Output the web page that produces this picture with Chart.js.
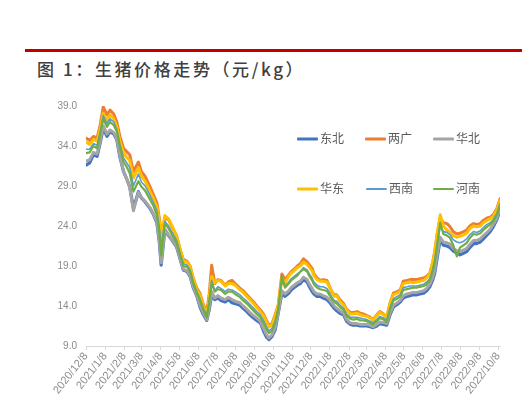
<!DOCTYPE html>
<html>
<head>
<meta charset="utf-8">
<script src="https://cdn.jsdelivr.net/npm/chart.js@4.4.0/dist/chart.umd.min.js"></script>
<style>
  html, body { margin: 0; padding: 0; background: #ffffff; }
  #wrap { position: relative; width: 522px; height: 417px; overflow: hidden; background: #fff; }
  #redline { position: absolute; left: 25px; right: 0; top: 49px; height: 3px; background: #c00000; }
  #title { position: absolute; left: 37px; top: 56px; font-family: "Noto Sans CJK SC", sans-serif; font-size: 17px; font-weight: 500; color: #404040; letter-spacing: 2.6px; white-space: nowrap; }
  canvas { position: absolute; left: 0; top: 0; }
  .lg { position: absolute; height: 14px; font-family: "Noto Sans CJK SC", sans-serif; font-size: 12px; color: #595959; white-space: nowrap; }
  .lg span.ln { position: absolute; left: 0; top: 50%; width: 21px; transform: translateY(-50%); border-radius: 1px; }
  .lg span.tx { position: absolute; left: 23px; top: -2px; line-height: 16px; }
</style>
</head>
<body>
<div id="wrap">
  <div id="redline"></div>
  <div id="title">图 1：生猪价格走势（元/kg）</div>
  <canvas id="c" width="522" height="417"></canvas>
  <div id="legend"></div>
</div>
<script>
// ---- data ----
const dates = [
'2020-12-08','2020-12-14','2020-12-20','2020-12-26','2020-12-31','2021-01-05','2021-01-11','2021-01-16','2021-01-22','2021-01-27',
'2021-02-01','2021-02-07','2021-02-12','2021-02-17','2021-02-23','2021-03-03','2021-03-08','2021-03-14','2021-03-22','2021-03-27',
'2021-04-02','2021-04-06','2021-04-09','2021-04-15','2021-04-21','2021-04-26','2021-05-04','2021-05-10','2021-05-15','2021-05-21',
'2021-05-26','2021-05-31','2021-06-06','2021-06-11','2021-06-16','2021-06-22','2021-06-26','2021-06-30','2021-07-05','2021-07-10',
'2021-07-15','2021-07-22','2021-07-27','2021-08-02','2021-08-07','2021-08-15','2021-08-20','2021-08-26','2021-08-31','2021-09-06',
'2021-09-11','2021-09-17','2021-09-22','2021-09-27','2021-10-01','2021-10-06','2021-10-11','2021-10-16','2021-10-22','2021-10-27',
'2021-11-02','2021-11-06','2021-11-11','2021-11-16','2021-11-21','2021-11-26','2021-12-02','2021-12-05','2021-12-10','2021-12-13',
'2021-12-18','2021-12-23','2021-12-28','2022-01-03','2022-01-07','2022-01-11','2022-01-15','2022-01-19','2022-01-24','2022-01-30',
'2022-02-04','2022-02-10','2022-02-15','2022-02-21','2022-02-26','2022-03-03','2022-03-09','2022-03-14','2022-03-19','2022-03-25',
'2022-03-30','2022-04-05','2022-04-10','2022-04-16','2022-04-21','2022-04-27','2022-05-02','2022-05-07','2022-05-13','2022-05-18',
'2022-05-23','2022-05-29','2022-06-03','2022-06-09','2022-06-14','2022-06-19','2022-06-24','2022-06-27','2022-07-01','2022-07-06',
'2022-07-11','2022-07-17','2022-07-22','2022-07-27','2022-08-02','2022-08-07','2022-08-13','2022-08-18','2022-08-23','2022-08-29',
'2022-09-03','2022-09-09','2022-09-14','2022-09-20','2022-09-25','2022-09-30','2022-10-06','2022-10-11'
];

const dongbei = [
31.6,31.9,32.9,32.7,34.4,36.2,35.2,35.8,35.5,34.8,
32.6,30.8,29.9,28.9,26.2,28.3,27.5,27.0,26.2,25.5,
24.4,22.0,19.1,23.5,22.8,22.3,21.4,19.8,18.5,18.3,
17.7,16.3,15.2,13.9,13.0,12.2,13.5,15.4,14.8,15.0,
14.7,14.5,14.8,14.4,14.3,14.1,13.7,13.3,12.9,12.5,
12.2,11.9,10.9,10.1,9.8,10.2,11.0,13.1,15.6,15.2,
15.6,16.0,16.3,16.6,16.8,17.3,17.0,16.5,15.8,15.5,
15.2,15.2,15.0,14.8,14.5,14.1,13.7,13.4,13.1,12.9,
12.1,11.7,11.6,11.6,11.5,11.5,11.5,11.4,11.3,11.5,
11.8,11.7,11.6,13.0,13.9,14.2,14.5,15.0,15.2,15.3,
15.4,15.4,15.5,15.6,15.9,16.4,17.3,18.1,20.0,22.3,
21.6,21.5,21.3,20.9,20.6,20.4,20.6,20.8,21.3,21.8,
21.8,22.0,22.4,22.9,23.3,23.9,24.8,26.0
];
const liangguang = [
35.0,34.7,35.2,35.0,36.6,38.9,37.9,38.5,38.0,37.0,
35.2,33.7,33.3,32.9,30.8,32.0,30.8,30.2,28.9,28.0,
26.9,25.0,23.0,25.0,24.8,24.0,22.8,21.0,19.8,19.6,
19.0,17.5,16.2,15.6,14.3,13.3,15.5,19.1,16.8,17.3,
17.2,16.6,17.0,17.2,16.8,16.2,15.9,15.4,15.0,14.5,
14.0,13.5,13.0,12.2,11.6,11.8,12.9,14.1,18.0,17.3,
17.9,18.3,18.6,19.0,19.3,19.9,19.5,19.2,18.7,18.0,
17.5,17.2,17.3,17.2,16.5,15.8,15.4,15.4,14.8,14.3,
13.6,13.2,13.2,13.3,13.1,13.0,12.8,12.6,12.3,12.9,
13.3,13.0,12.6,14.5,15.6,15.8,16.0,17.1,17.2,17.3,
17.3,17.3,17.4,17.5,17.7,18.1,19.5,20.8,23.0,25.0,
24.4,24.3,23.9,23.3,23.0,23.1,23.3,23.5,24.0,24.3,
24.2,24.3,24.7,25.0,25.1,25.4,26.2,27.4
];
const huabei = [
32.1,32.3,33.2,33.0,34.6,36.5,35.5,36.0,35.7,34.9,
32.8,30.8,29.9,28.8,25.9,28.2,27.6,27.1,26.3,25.6,
24.5,22.2,19.4,23.6,22.9,22.4,21.5,19.9,18.6,18.4,
17.8,16.4,15.3,14.1,13.2,12.3,13.7,15.8,15.0,15.3,
15.0,14.8,15.1,14.8,14.6,14.4,14.0,13.6,13.2,12.8,
12.5,12.1,11.2,10.4,10.0,10.4,11.3,13.2,15.9,15.5,
15.9,16.3,16.6,16.9,17.1,17.6,17.3,16.8,16.2,15.8,
15.5,15.5,15.3,15.1,14.8,14.4,14.0,13.7,13.4,13.1,
12.3,11.9,11.8,11.8,11.7,11.7,11.7,11.6,11.4,11.7,
12.0,11.9,11.8,13.2,14.1,14.4,14.7,15.3,15.5,15.6,
15.7,15.7,15.8,15.9,16.2,16.7,17.6,18.5,20.4,22.6,
22.0,21.9,21.7,21.2,20.9,20.8,21.0,21.2,21.7,22.2,
22.2,22.4,22.8,23.2,23.6,24.2,25.0,26.3
];
const huadong = [
34.5,34.2,34.8,34.6,36.1,38.1,37.2,37.9,37.4,36.4,
34.6,33.1,32.6,32.2,30.0,31.3,30.2,29.6,28.3,27.5,
26.4,24.6,22.5,25.3,24.9,24.1,22.7,21.0,19.6,19.5,
18.9,17.4,16.0,15.4,14.1,12.9,15.0,17.7,16.9,17.2,
17.1,16.5,16.8,16.8,16.6,16.0,15.7,15.2,14.8,14.3,
13.8,13.3,12.8,12.0,11.4,11.6,12.7,14.0,17.5,16.9,
17.7,18.1,18.4,18.8,19.0,19.5,19.2,18.9,18.4,17.8,
17.3,17.1,17.1,17.0,16.4,15.7,15.2,15.3,14.6,14.1,
13.5,13.0,13.0,13.1,12.9,12.8,12.7,12.5,12.2,12.8,
13.2,12.9,12.6,14.4,15.4,15.6,15.8,16.8,16.9,17.0,
16.9,17.0,17.1,17.2,17.5,18.0,19.6,20.6,23.0,25.4,
24.0,23.5,23.2,22.8,22.6,22.7,22.9,23.1,23.7,24.0,
23.9,24.0,24.4,24.7,24.9,25.2,26.0,27.2
];
const xinan = [
33.6,33.6,34.3,34.1,35.7,37.8,36.8,37.4,37.0,36.1,
34.2,32.5,31.9,31.3,29.0,30.5,29.5,29.0,27.8,27.0,
25.9,23.8,21.4,24.6,24.0,23.3,22.2,20.5,19.3,19.1,
18.5,17.0,15.8,14.9,13.8,12.8,14.6,17.2,15.9,16.4,
16.2,15.8,16.1,16.0,15.8,15.4,15.0,14.6,14.2,13.7,
13.3,12.9,12.2,11.4,10.9,11.2,12.1,13.7,17.1,16.5,
17.0,17.4,17.7,18.0,18.3,18.8,18.5,18.1,17.5,17.0,
16.6,16.4,16.4,16.2,15.7,15.1,14.7,14.6,14.1,13.7,
13.0,12.6,12.6,12.6,12.5,12.4,12.3,12.1,11.9,12.3,
12.7,12.5,12.2,13.9,14.9,15.2,15.4,16.3,16.4,16.5,
16.5,16.5,16.6,16.7,17.0,17.4,18.7,19.7,21.9,24.0,
23.3,23.2,22.9,22.3,22.0,21.9,22.1,22.4,22.9,23.3,
23.2,23.4,23.8,24.2,24.4,24.8,25.6,26.8
];
const henan = [
33.1,33.2,34.0,33.7,35.4,37.4,36.4,37.0,36.6,35.8,
33.8,32.0,31.4,30.6,28.3,29.6,28.9,28.4,27.3,26.6,
25.4,23.3,20.3,24.3,23.7,23.0,21.9,20.3,19.0,18.9,
18.3,16.8,15.6,14.7,13.6,12.6,14.4,16.9,15.8,16.1,
16.0,15.5,15.8,15.8,15.5,15.1,14.7,14.3,13.9,13.4,
13.0,12.6,11.9,11.1,10.6,10.9,11.9,13.5,17.7,16.3,
16.8,17.2,17.5,17.8,18.3,18.6,18.3,17.8,17.2,16.7,
16.3,16.1,16.0,15.9,15.4,14.9,14.5,14.3,13.9,13.5,
12.8,12.4,12.3,12.4,12.2,12.2,12.1,11.9,11.7,12.1,
12.5,12.3,12.0,13.7,14.7,14.9,15.2,16.0,16.1,16.2,
16.3,16.3,16.4,16.5,16.7,17.2,18.4,19.4,21.5,24.4,
23.0,22.8,22.5,21.6,20.2,21.3,21.6,21.9,22.5,23.0,
22.9,23.1,23.5,23.9,24.2,24.6,25.4,26.6
];

const seriesNames = ['东北','两广','华北','华东','西南','河南'];
const tickLabels = ['2020/12/8','2021/1/8','2021/2/8','2021/3/8','2021/4/8','2021/5/8','2021/6/8','2021/7/8','2021/8/8','2021/9/8','2021/10/8','2021/11/8','2021/12/8','2022/1/8','2022/2/8','2022/3/8','2022/4/8','2022/5/8','2022/6/8','2022/7/8','2022/8/8','2022/9/8','2022/10/8'];
const yTicks = [9, 14, 19, 24, 29, 34, 39];

// ---- helpers ----
function dayOf(y, m, d) { return Date.UTC(y, m - 1, d) / 86400000; }
const day0 = dayOf(2020, 12, 8);
function isoToDay(s) { const p = s.split('-').map(Number); return dayOf(p[0], p[1], p[2]) - day0; }
function labelToDay(s) { const p = s.split('/').map(Number); return dayOf(p[0], p[1], p[2]) - day0; }
const xs = dates.map(isoToDay);
const tickDays = tickLabels.map(labelToDay);

const styles = [
  { color: '#4472C4', width: 3.2 },
  { color: '#ED7D31', width: 3 },
  { color: '#A5A5A5', width: 3 },
  { color: '#FFC000', width: 3 },
  { color: '#5B9BD5', width: 1.6 },
  { color: '#70AD47', width: 2.2 }
];
const values = [dongbei, liangguang, huabei, huadong, xinan, henan];

const datasets = values.map((arr, i) => ({
  label: seriesNames[i],
  data: arr.map((v, j) => ({ x: xs[j], y: v })),
  borderColor: styles[i].color,
  backgroundColor: styles[i].color,
  borderWidth: styles[i].width,
  pointRadius: 0,
  tension: 0,
  fill: false,
  borderJoinStyle: 'round',
  borderCapStyle: 'round',
  order: 5 - i
}));

new Chart(document.getElementById('c'), {
  type: 'line',
  data: { datasets },
  options: {
    responsive: false,
    animation: false,
    events: [],
    layout: { padding: { top: 106, left: 0, right: 22, bottom: 0 } },
    plugins: { legend: { display: false }, tooltip: { enabled: false }, title: { display: false } },
    scales: {
      x: {
        type: 'linear',
        min: 0,
        max: 672,
        afterBuildTicks: (scale) => { scale.ticks = tickDays.map(v => ({ value: v })); },
        afterFit: (scale) => { scale.height = 71; },
        grid: { display: true, drawOnChartArea: false, drawTicks: true, tickLength: 4, color: '#d9d9d9' },
        border: { display: true, color: '#d9d9d9', width: 1 },
        ticks: {
          autoSkip: false,
          maxRotation: 52,
          minRotation: 52,
          padding: 0,
          color: '#8c8c8c',
          font: { family: 'Liberation Sans', size: 11 },
          callback: (v, i) => tickLabels[i]
        }
      },
      y: {
        min: 9,
        max: 39,
        afterBuildTicks: (scale) => { scale.ticks = yTicks.map(v => ({ value: v })); },
        afterFit: (scale) => { scale.width = 86; },
        grid: { display: false, drawTicks: false },
        border: { display: false },
        ticks: {
          padding: 9,
          color: '#8c8c8c',
          font: { family: 'Liberation Sans', size: 10 },
          callback: (v) => Number(v).toFixed(1)
        }
      }
    }
  }
});

// ---- legend (HTML, two rows of three) ----
const legendPos = [
  { left: 297, top: 132 }, { left: 365, top: 132 }, { left: 433, top: 132 },
  { left: 297, top: 182 }, { left: 366, top: 182 }, { left: 433, top: 182 }
];
const lg = document.getElementById('legend');
seriesNames.forEach((n, i) => {
  const d = document.createElement('div');
  d.className = 'lg';
  d.style.left = legendPos[i].left + 'px';
  d.style.top = legendPos[i].top + 'px';
  d.style.width = '60px';
  const ln = document.createElement('span');
  ln.className = 'ln';
  ln.style.height = (styles[i].width >= 3 ? 3 : 2) + 'px';
  ln.style.background = styles[i].color;
  const tx = document.createElement('span');
  tx.className = 'tx';
  tx.textContent = n;
  d.appendChild(ln); d.appendChild(tx);
  lg.appendChild(d);
});
</script>
</body>
</html>
